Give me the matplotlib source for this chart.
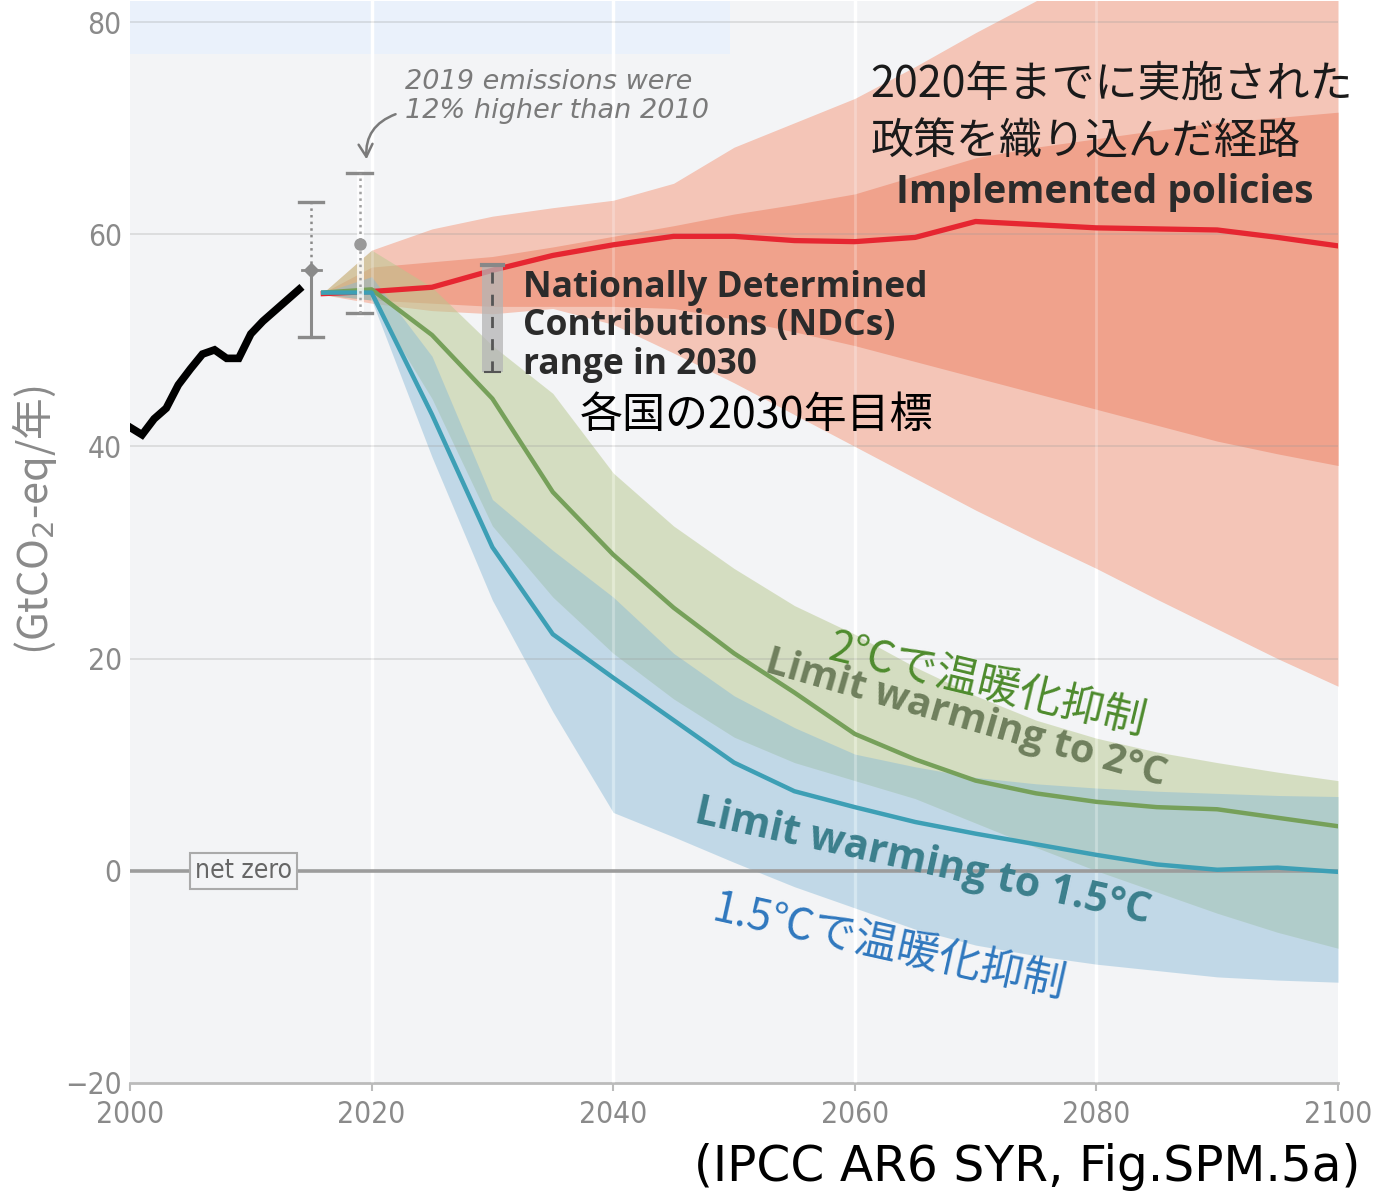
import os
import numpy as np
import matplotlib.pyplot as plt
from matplotlib import font_manager
from matplotlib.font_manager import FontProperties

# 历史排放
hist_year=[2000,2001,2002,2003,2004,2005,2006,2007,2008,2009,2010,2011,2012,2013,2014]
hist_val=[41.8,41.1,42.6,43.6,45.8,47.3,48.7,49.1,48.3,48.3,50.6,51.8,52.8,53.8,54.8]

# 情景年份
yrs=[2016,2020,2025,2030,2035,2040,2045,2050,2055,2060,2065,2070,2075,2080,2085,2090,2095,2100]

# Implemented policies
ip_med=[54.4,54.6,55.0,56.6,58.0,59.0,59.8,59.8,59.4,59.3,59.7,61.2,60.9,60.6,60.5,60.4,59.7,58.9]
ip_hi=[54.5,58.5,60.5,61.7,62.5,63.2,64.8,68.2,70.5,72.8,75.8,79.0,82.0,85.0,88.0,90.0,92.0,94.0]
ip_lo=[54.3,53.5,52.8,52.5,53.0,51.5,48.8,46.0,43.0,40.0,37.0,34.0,31.2,28.5,25.6,22.8,20.0,17.4]
ip_hi2=[54.5,56.9,57.4,57.9,58.8,59.8,60.8,61.9,62.8,63.8,65.5,67.2,68.2,69.0,69.8,70.5,71.0,71.5]
ip_lo2=[54.3,53.8,53.5,53.2,53.2,53.2,53.0,52.0,50.8,49.5,48.0,46.5,45.0,43.5,42.0,40.5,39.3,38.2]

# 2°C
c2_med=[54.5,54.8,50.5,44.5,35.7,29.8,24.8,20.5,16.8,12.9,10.5,8.5,7.3,6.5,6.0,5.8,5.0,4.2]
c2_hi=[54.5,58.5,55.0,49.5,45.0,37.5,32.5,28.5,25.0,22.3,19.2,16.5,14.2,12.5,11.2,10.2,9.3,8.5]
c2_lo=[54.3,53.8,44.5,32.5,25.8,20.5,16.2,12.6,10.2,8.5,6.8,4.5,2.2,0.0,-2.0,-4.0,-5.8,-7.3]

# 1.5°C
c15_med=[54.5,54.5,43.0,30.5,22.3,18.2,14.2,10.2,7.5,6.0,4.6,3.5,2.5,1.5,0.6,0.1,0.3,-0.1]
c15_hi=[54.5,56.0,48.5,35.0,30.2,25.8,20.5,16.5,13.5,11.0,9.8,8.8,8.2,7.8,7.5,7.3,7.1,7.0]
c15_lo=[54.3,53.8,39.0,25.5,15.0,5.5,3.2,0.8,-1.5,-3.5,-5.5,-7.0,-8.0,-8.8,-9.4,-10.0,-10.3,-10.5]

# 误差棒
bar_year=[2015,2019]
bar_top=[63.0,65.8]
bar_mid=[56.6,59.1]
bar_bot=[50.3,52.6]

# NDC 2030
ndc_year=2030
ndc_lo=47.0
ndc_hi=57.1

xticks=np.arange(2000,2101,20)
yticks=np.arange(-20,81,20)

#字体
cond=None
tsize=21
for key,size in [('LiberationSansNarrow-Regular',24),('DejaVuSansCondensed.ttf',21.5),('RobotoCondensed-Regular',22)]:
    for f in font_manager.fontManager.ttflist:
        if key in os.path.basename(f.fname):
            cond=FontProperties(fname=f.fname)
            tsize=size
            break
    if cond is not None:
        break
if cond is None:
    cond=FontProperties(family='DejaVu Sans',stretch='condensed')
jp=['Noto Sans CJK JP','DejaVu Sans']
en=['Open Sans','DejaVu Sans']

def fp(size):
    p=cond.copy()
    p.set_size(size)
    return p

#创建图
fig=plt.figure(figsize=[13.73,11.94],dpi=100)
ax=fig.add_axes([130/1373,1-1083/1194,1208/1373,1082.2/1194])
ax.set_facecolor('#f3f4f6')
ax.set_xlim(2000,2100)
ax.set_ylim(-20,82)

# 顶部浅蓝区域
ax.axhspan(77,82,xmin=0,xmax=0.497,color='#eaf1fb',lw=0,zorder=0.6)

#竖线（白）
for v in [2020,2040,2060,2080]:
    ax.axvline(v,color='white',lw=2.5,zorder=0.8)

# 区间带
ax.fill_between(yrs,ip_lo,ip_hi,color='#f4c5b7',lw=0,zorder=1)
ax.fill_between(yrs,ip_lo2,ip_hi2,color='#f0a28c',lw=0,zorder=1.1)
ax.fill_between(yrs,c2_lo,c2_hi,color='#b7c88e',alpha=0.5,lw=0,zorder=1.2)
ax.fill_between(yrs,c15_lo,c15_hi,color='#86b8d6',alpha=0.45,lw=0,zorder=1.3)

#网格
for v in [20,40,60,80]:
    ax.axhline(v,color='#9a9a9a',alpha=0.3,lw=1.2,zorder=4)
for v in [2020,2040,2060,2080]:
    ax.axvline(v,color='white',alpha=0.25,lw=2,zorder=4)
ax.axhline(0,color='#9c9c9c',lw=2.6,zorder=4.5)

# 中位线
ax.plot(hist_year,hist_val,color='black',lw=5.5,solid_joinstyle='miter',zorder=6)
ax.plot(yrs,ip_med,color='#e62631',lw=3.8,zorder=6)
ax.plot(yrs,c2_med,color='#76a05a',lw=3.2,zorder=6)
ax.plot(yrs,c15_med,color='#3d9fb5',lw=3.2,zorder=6)

# 误差棒
g='#8a8a8a'
ax.plot([bar_year[0]]*2,[bar_mid[0],bar_top[0]],color=g,lw=1.8,ls=':',zorder=7)
ax.plot([bar_year[0]]*2,[bar_bot[0],bar_mid[0]],color=g,lw=2.2,zorder=7)
ax.plot([bar_year[1]]*2,[bar_bot[1],bar_top[1]],color='white',lw=5,alpha=0.8,zorder=7)
ax.plot([bar_year[1]]*2,[bar_bot[1],bar_top[1]],color='#a0a0a0',lw=1.8,ls=':',zorder=7.1)
for i in range(2):
    for v in [bar_top[i],bar_bot[i]]:
        ax.plot([bar_year[i]-1,bar_year[i]+1],[v,v],color=g,lw=2.4,zorder=7)
ax.plot(bar_year[0],bar_mid[0],marker='D',ms=7,color=g,zorder=7.2)
ax.plot([bar_year[0]-0.8,bar_year[0]+0.8],[bar_mid[0]]*2,color=g,lw=2,zorder=7.2)
ax.plot(bar_year[1],bar_mid[1],marker='o',ms=8,color='#999999',zorder=7.2)

# NDC范围
ax.fill_between([ndc_year-0.9,ndc_year+0.9],ndc_lo,ndc_hi,color='#b5b5b5',alpha=0.75,lw=0,zorder=7)
ax.plot([ndc_year]*2,[ndc_lo,ndc_hi],color='#555555',lw=2,ls=(0,(4,4)),zorder=7.1)
ax.plot([ndc_year-0.9,ndc_year+0.9],[ndc_hi,ndc_hi],color='#888888',lw=3,zorder=7.1)
ax.plot([ndc_year-0.6,ndc_year+0.6],[ndc_lo,ndc_lo],color='#555555',lw=1.5,zorder=7.1)

# 文字
ax.text(2032.5,56.6,'Nationally Determined\nContributions (NDCs)\nrange in 2030',family=en,
        fontsize=25.5,fontweight='bold',color='#2b2b2b',va='top',ha='left',linespacing=1.08,zorder=8)
ax.text(2037.2,42.9,'各国の2030年目標',family=jp,fontsize=31,color='black',va='center',ha='left',zorder=8)
ax.text(2061.3,76.2,'2020年までに実施された\n政策を織り込んだ経路',family=jp,fontsize=31,
        color='#1a1a1a',va='top',ha='left',linespacing=1.42,zorder=8)
ax.text(2080.7,63.9,'Implemented policies',family=en,fontsize=28,fontweight='bold',
        color='#2b2b2b',va='center',ha='center',zorder=8)
ax.text(2022.8,75.6,'2019 emissions were\n12% higher than 2010',family='DejaVu Sans',style='italic',
        fontsize=19.5,color='#7a7a7a',va='top',ha='left',linespacing=1.15,zorder=8)
ax.annotate('',xy=(2019.6,66.8),xytext=(2022.2,71.4),zorder=8,
            arrowprops=dict(arrowstyle='->,head_length=0.9,head_width=0.5',color='#7a7a7a',lw=1.8,
                            connectionstyle='arc3,rad=0.4'))

ax.text(2052.4,18.8,'Limit warming to 2°C',family=en,fontsize=28.5,fontweight='bold',color='#6f7f5d',
        rotation=-16,rotation_mode='anchor',ha='left',va='baseline',zorder=8)
ax.text(2057.6,19.9,'2℃で温暖化抑制',family=jp,fontsize=31,color='#4e8b2d',
        rotation=-13.5,rotation_mode='anchor',ha='left',va='baseline',zorder=8)
ax.text(2046.6,4.6,'Limit warming to 1.5°C',family=en,fontsize=29.5,fontweight='bold',color='#3b7f8c',
        rotation=-12.5,rotation_mode='anchor',ha='left',va='baseline',zorder=8)
ax.text(2048.0,-4.7,'1.5℃で温暖化抑制',family=jp,fontsize=31,color='#2f78be',
        rotation=-12.5,rotation_mode='anchor',ha='left',va='baseline',zorder=8)

ax.text(2009.4,0,'net zero',fontproperties=fp(tsize-2.5),color='#666666',ha='center',va='center',zorder=8,
        bbox=dict(boxstyle='square,pad=0.18',fc='#f3f4f6',ec='#aaaaaa',lw=1.5))

#坐标轴
for s in ['left','right','top']:
    ax.spines[s].set_visible(False)
ax.spines['bottom'].set_color('#bbbbbb')
ax.spines['bottom'].set_linewidth(2)
ax.set_xticks(xticks)
ax.set_yticks(yticks)
ax.set_xticklabels([str(v) for v in xticks],fontproperties=fp(tsize),color='#8a8a8a')
ax.set_yticklabels([str(v).replace('-','\u2212') for v in yticks],fontproperties=fp(tsize),color='#8a8a8a')
ax.tick_params(axis='x',length=6,width=1.5,color='#bbbbbb',pad=6)
ax.tick_params(axis='y',length=0,pad=6)

fig.text(35/1373,1-520/1194,'(GtCO$_2$-eq/年)',family=jp,fontsize=30,color='#8a8a8a',
         rotation=90,ha='center',va='center')
fig.text(1360/1373,1-1167/1194,'(IPCC AR6 SYR, Fig.SPM.5a)',family='DejaVu Sans',fontsize=35,
         color='black',ha='right',va='center')

fig.savefig('out.png',dpi=100)
